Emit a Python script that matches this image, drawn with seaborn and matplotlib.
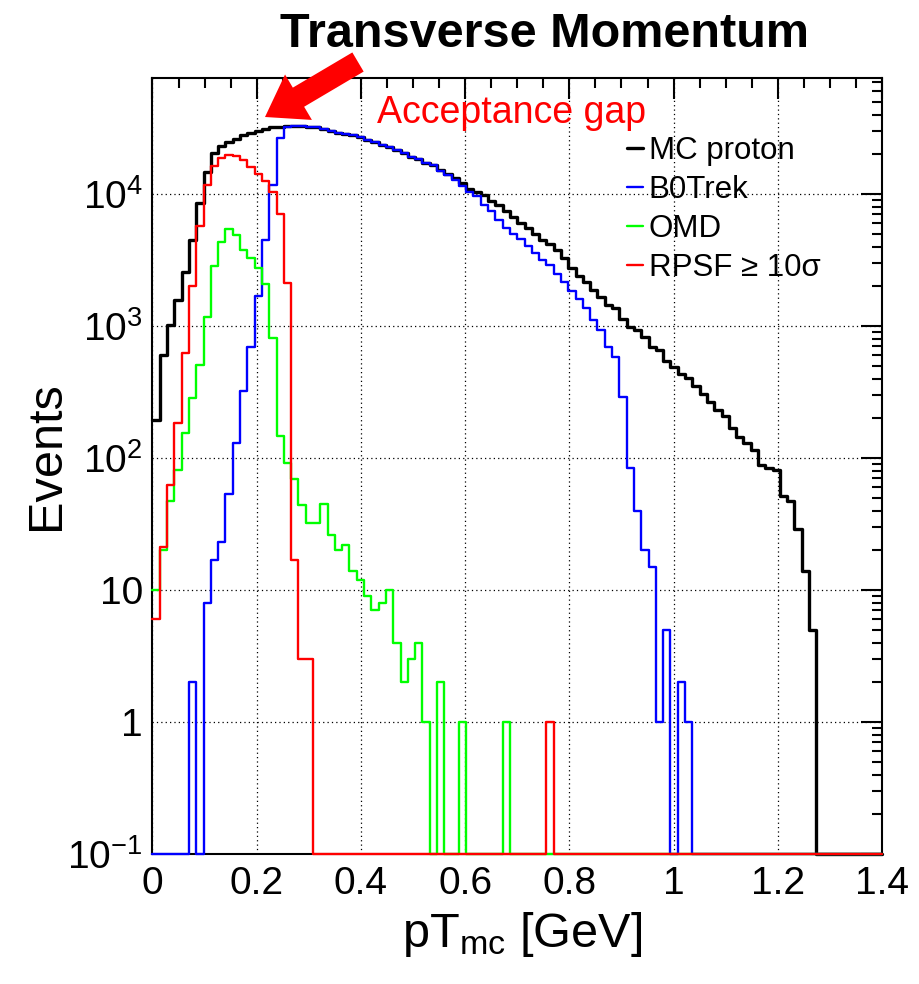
"""
Transverse momentum of MC protons and of the protons seen by each
far-forward detector (B0 tracker, off-momentum detectors, Roman pots).
ROOT-style log histogram redrawn with seaborn.
"""

import numpy as np
import pandas as pd
import matplotlib
matplotlib.use("Agg")
import matplotlib.pyplot as plt
import seaborn as sns
from matplotlib.ticker import (FixedLocator, FixedFormatter, LogLocator,
                               MultipleLocator, NullFormatter)

# ── Data: 100 bins of 0.014 GeV from 0 to 1.4 GeV ─────────────────────────
BIN_WIDTH = 0.014
N_BINS = 100

mc_proton = [
    195, 600, 1020, 1570, 2580, 4480, 8590, 14800, 20300, 23100,
    24900, 26300, 28000, 29100, 30200, 31100, 32000, 32400, 32600, 32800,
    32700, 32400, 32000, 30900, 30200, 29100, 28500, 28000, 26900, 25700,
    24900, 23500, 22600, 21500, 20300, 19200, 18300, 17300, 16600, 15200,
    14200, 13200, 12100, 11000, 10300, 9800, 8900, 8200, 7500, 6700,
    6050, 5550, 5000, 4500, 4150, 3750, 3250, 2750, 2400, 2170,
    1870, 1670, 1440, 1380, 1140, 990, 933, 830, 689, 658,
    543, 492, 433, 402, 351, 305, 267, 231, 208, 168,
    144, 129, 116, 89, 84, 81, 52, 47, 29, 14,
    5, 0, 0, 0, 0, 0, 0, 0, 0, 0,
]

b0trek = [
    0, 0, 0, 0, 0, 2, 0, 8, 17, 23,
    53, 129, 322, 697, 1690, 4490, 11700, 26400, 32400, 32800,
    32700, 32400, 32000, 30900, 30200, 29100, 28500, 28000, 26900, 25700,
    24900, 23500, 22600, 21500, 20300, 19200, 18300, 17300, 16500, 15000,
    13900, 12800, 11600, 10400, 9660, 8260, 7480, 6360, 5500, 4980,
    4540, 4040, 3590, 3160, 2900, 2480, 2170, 1850, 1590, 1360,
    1110, 933, 697, 586, 292, 84, 40, 20, 15, 1,
    5, 0, 2, 1, 0, 0, 0, 0, 0, 0,
    0, 0, 0, 0, 0, 0, 0, 0, 0, 0,
    0, 0, 0, 0, 0, 0, 0, 0, 0, 0,
]

omd = [
    10, 20, 47, 81, 154, 283, 507, 1175, 2850, 4350,
    5400, 4890, 3800, 3260, 2740, 2080, 815, 147, 91, 69,
    44, 32, 32, 45, 26, 20, 22, 14, 12, 9,
    7, 8, 10, 4, 2, 3, 4, 1, 0, 2,
    0, 0, 1, 0, 0, 0, 0, 0, 1, 0,
    0, 0, 0, 0, 0, 0, 0, 0, 0, 0,
    0, 0, 0, 0, 0, 0, 0, 0, 0, 0,
    0, 0, 0, 0, 0, 0, 0, 0, 0, 0,
    0, 0, 0, 0, 0, 0, 0, 0, 0, 0,
    0, 0, 0, 0, 0, 0, 0, 0, 0, 0,
]

rpsf = [
    6, 21, 62, 183, 620, 2020, 5720, 11800, 16300, 18900,
    19900, 19500, 18100, 15900, 14100, 12500, 10400, 7050, 2100, 17,
    3, 3, 0, 0, 0, 0, 0, 0, 0, 0,
    0, 0, 0, 0, 0, 0, 0, 0, 0, 0,
    0, 0, 0, 0, 0, 0, 0, 0, 0, 0,
    0, 0, 0, 0, 1, 0, 0, 0, 0, 0,
    0, 0, 0, 0, 0, 0, 0, 0, 0, 0,
    0, 0, 0, 0, 0, 0, 0, 0, 0, 0,
    0, 0, 0, 0, 0, 0, 0, 0, 0, 0,
    0, 0, 0, 0, 0, 0, 0, 0, 0, 0,
]

series_names = ["MC proton", "B0Trek", "OMD", "RPSF ≥ 10σ"]
series_colors = ["#000000", "#0000ff", "#00ff00", "#ff0000"]
series_widths = [2.4, 1.7, 1.7, 1.7]

x_ticks = [0, 0.2, 0.4, 0.6, 0.8, 1.0, 1.2, 1.4]
x_tick_labels = ["0", "0.2", "0.4", "0.6", "0.8", "1", "1.2", "1.4"]
y_ticks = [0.1, 1, 10, 100, 1000, 10000]
y_tick_labels = [r"$10^{-1}$", "1", "10", r"$10^{2}$", r"$10^{3}$", r"$10^{4}$"]
Y_MIN, Y_MAX = 0.1, 7.57e4

# ── Style ─────────────────────────────────────────────────────────────────
sns.set_theme(style="white")
plt.rcParams["font.family"] = ["Liberation Sans", "DejaVu Sans"]
plt.rcParams["mathtext.fontset"] = "custom"
plt.rcParams["mathtext.rm"] = "Liberation Sans"
plt.rcParams["mathtext.it"] = "Liberation Sans:italic"
plt.rcParams["mathtext.bf"] = "Liberation Sans:bold"
plt.rcParams["mathtext.default"] = "regular"
plt.rcParams["text.color"] = "black"
plt.rcParams["axes.labelcolor"] = "black"

W_PX, H_PX = 920, 984
fig = plt.figure(figsize=(W_PX / 100, H_PX / 100), dpi=100)
left, right, top, bottom = 152.5, 882, 78, 854
ax = fig.add_axes([left / W_PX, 1 - bottom / H_PX,
                   (right - left) / W_PX, (bottom - top) / H_PX])

edges = [round(i * BIN_WIDTH, 4) for i in range(N_BINS + 1)]
centers = [e + BIN_WIDTH / 2 for e in edges[:-1]]

# empty bins are drawn on the bottom of the frame, as ROOT does on a log axis
for name, counts, color, lw in zip(series_names,
                                   [mc_proton, b0trek, omd, rpsf],
                                   series_colors, series_widths):
    df = pd.DataFrame({"pt": centers,
                       "events": np.maximum(np.array(counts, float), Y_MIN)})
    sns.histplot(data=df, x="pt", weights="events", bins=edges,
                 element="step", fill=False, color=color,
                 linewidth=lw, label=name, ax=ax, clip_on=False, zorder=3)

ax.set_yscale("log")
ax.set_xlim(0, 1.4)
ax.set_ylim(Y_MIN, Y_MAX)

# ── Axes, ticks, grid ─────────────────────────────────────────────────────
ax.xaxis.set_major_locator(FixedLocator(x_ticks))
ax.xaxis.set_major_formatter(FixedFormatter(x_tick_labels))
ax.xaxis.set_minor_locator(MultipleLocator(0.05))
ax.yaxis.set_major_locator(FixedLocator(y_ticks))
ax.yaxis.set_major_formatter(FixedFormatter(y_tick_labels))
ax.yaxis.set_minor_locator(LogLocator(base=10, subs=np.arange(2, 10) * 1.0, numticks=30))
ax.yaxis.set_minor_formatter(NullFormatter())

ax.tick_params(which="both", direction="in", top=True, right=True,
               width=1.5, color="black", labelcolor="black")
ax.tick_params(which="major", length=15, labelsize=28)
ax.tick_params(which="minor", length=7.5)
ax.tick_params(axis="y", which="major", pad=7)
ax.tick_params(axis="x", which="major", pad=9)

for spine in ax.spines.values():
    spine.set_color("black")
    spine.set_linewidth(1.5)

ax.grid(True, which="major", color="black", linestyle=(0, (1, 2.5)), linewidth=0.9)
ax.set_axisbelow(True)

ax.set_xlabel(r"pT$_{mc}$ [GeV]", fontsize=35, color="black")
ax.set_ylabel("Events", fontsize=35, color="black")
ax.xaxis.set_label_coords(0.5065, -0.072)
ax.yaxis.set_label_coords(-0.115, 0.513)

# ── Legend, title and annotation ──────────────────────────────────────────
leg = ax.legend(loc="upper left", bbox_to_anchor=(627 / W_PX, 1 - 136 / H_PX),
                bbox_transform=fig.transFigure, frameon=False, fontsize=22.5,
                handlelength=0.5, handletextpad=0.2, labelspacing=0.29,
                borderpad=0, borderaxespad=0)
for txt in leg.get_texts():
    txt.set_color("black")

fig.text(545 / W_PX, 1 - 47 / H_PX, "Transverse Momentum", fontsize=35,
         fontweight="bold", ha="center", va="baseline", color="black")
fig.text(377 / W_PX, 1 - 123 / H_PX, "Acceptance gap", fontsize=27,
         ha="left", va="baseline", color="#ff0000")
ax.annotate("", xy=(265 / W_PX, 1 - 117 / H_PX), xycoords="figure fraction",
            xytext=(358 / W_PX, 1 - 62 / H_PX), textcoords="figure fraction",
            arrowprops=dict(facecolor="#ff0000", edgecolor="none", width=16,
                            headwidth=38, headlength=28, shrink=0),
            annotation_clip=False)

plt.savefig("out.png", dpi=100)
plt.close()
